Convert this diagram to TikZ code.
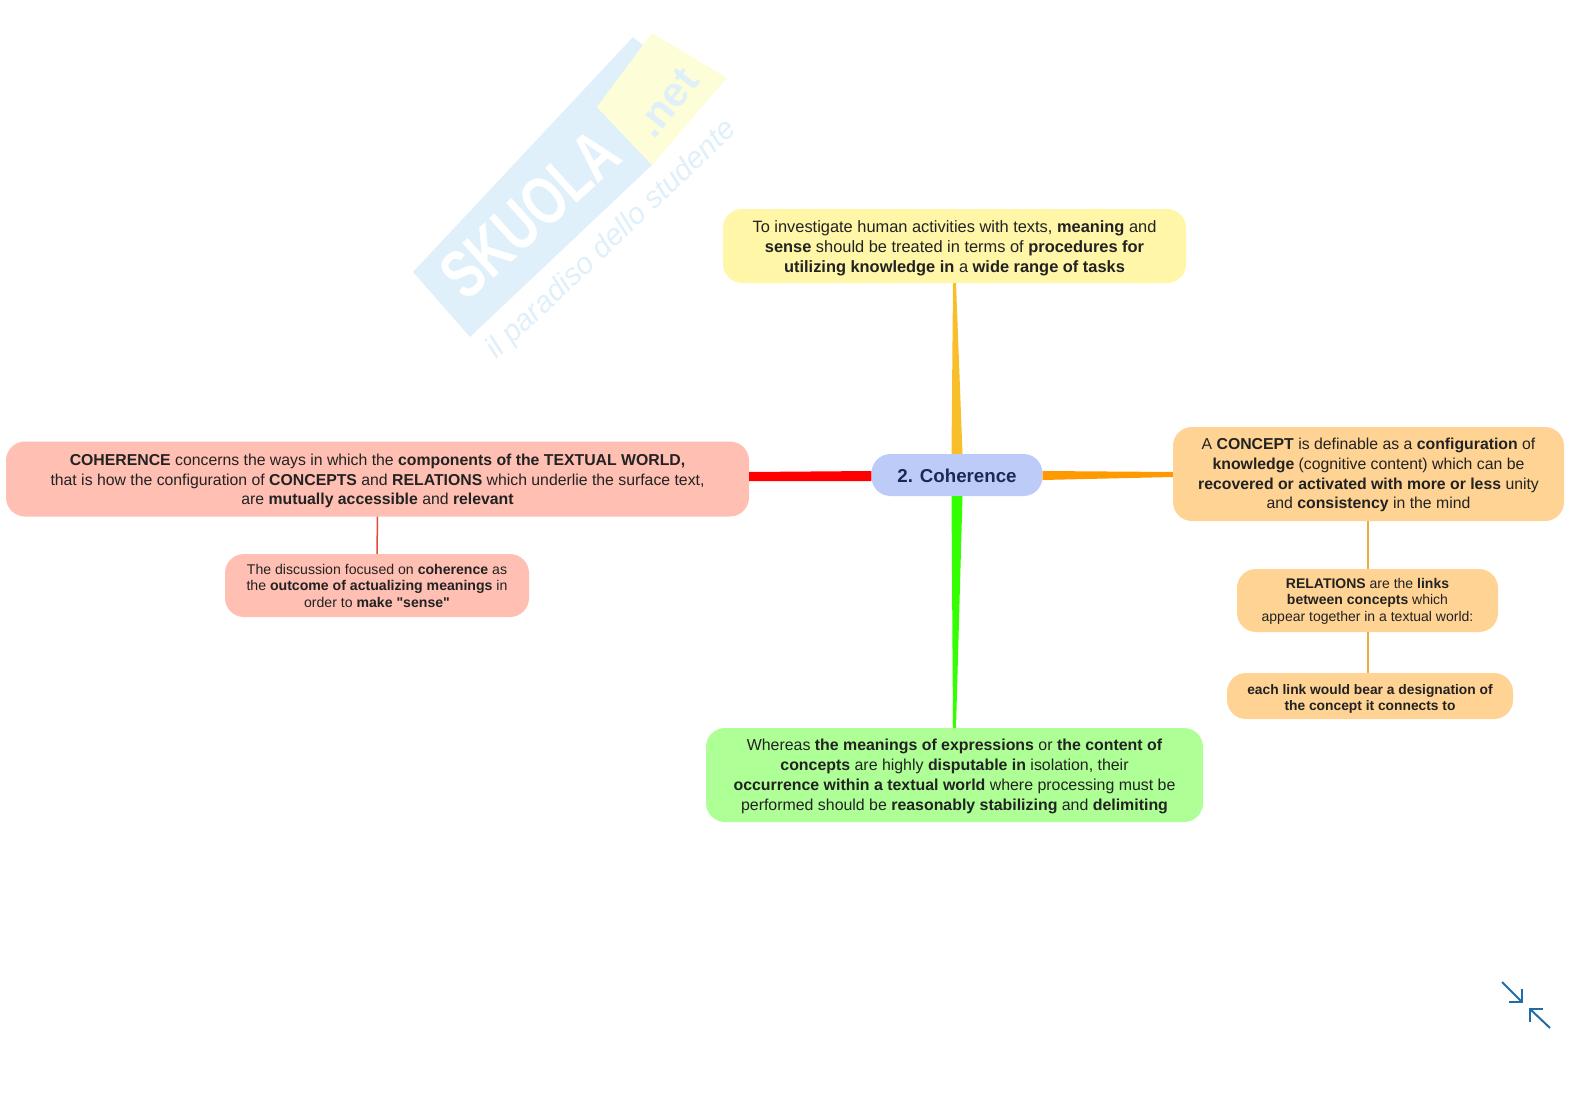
\documentclass[tikz,border=0pt]{standalone}
\usepackage{fontspec}
\setmainfont{Liberation Sans}
\newfontfamily\straightfont{Liberation Sans}
\usetikzlibrary{calc}
\definecolor{hubfill}{HTML}{BDCBF8}
\definecolor{hubtext}{HTML}{1B2A55}
\definecolor{yellowfill}{HTML}{FFF6A8}
\definecolor{redfill}{HTML}{FFBFB3}
\definecolor{orangefill}{HTML}{FFD394}
\definecolor{greenfill}{HTML}{AEFF95}
\definecolor{textcol}{HTML}{222222}
\definecolor{markblue}{HTML}{E0F0FA}
\definecolor{markyellow}{HTML}{FDFDD8}
\definecolor{iconblue}{HTML}{1F6CA8}
\definecolor{yellowline}{HTML}{F9BF2B}
\definecolor{redline}{HTML}{FF0000}
\definecolor{orangeline}{HTML}{FF9900}
\definecolor{greenline}{HTML}{33FF00}
\definecolor{redthin}{HTML}{E04A3A}
\definecolor{orangethin}{HTML}{E8AC40}
\tikzset{
    box/.style={rectangle, rounded corners=19pt, inner sep=0pt, align=center, text=textcol},
    hub/.style={box, fill=hubfill, text=hubtext, minimum width=171pt, minimum height=42pt, text height=16pt, font=\fontsize{18.7}{23}\selectfont\bfseries},
    yellowbox/.style={box, fill=yellowfill, minimum width=463pt, minimum height=74pt, text height=56.3pt, font=\fontsize{16.4}{19.8}\selectfont},
    redbox/.style={box, fill=redfill, minimum width=743pt, minimum height=75pt, text height=54.8pt, font=\fontsize{15.8}{19.6}\selectfont},
    redsub/.style={box, fill=redfill, minimum width=304pt, minimum height=63pt, text height=43.5pt, font=\fontsize{14.1}{16.4}\selectfont},
    orangebox/.style={box, fill=orangefill, minimum width=391pt, minimum height=94pt, text height=72.9pt, font=\fontsize{15.8}{19.8}\selectfont},
    orangesub/.style={box, fill=orangefill, minimum width=261pt, minimum height=63pt, text height=44.4pt, font=\fontsize{14}{16.4}\selectfont},
    orangeend/.style={box, fill=orangefill, minimum width=286pt, minimum height=46pt, text height=32pt, font=\fontsize{13.8}{16.4}\selectfont},
    greenbox/.style={box, fill=greenfill, minimum width=497pt, minimum height=94pt, text height=74pt, font=\fontsize{15.9}{19.8}\selectfont},
    redlink/.style={draw=redthin, line width=1.5pt},
    orangelink/.style={draw=orangethin, line width=2pt},
    icon/.style={draw=iconblue, line width=2pt}
}

\begin{document}
\begin{tikzpicture}
  [
    x = 1pt,
    y = -1pt,
  ]
  \useasboundingbox (0,0) rectangle (1579,1116);

  % watermark
  \fill [markblue] (413,272) -- (633,37) -- (645,47) -- (597,107) -- (652,165) -- (470,337) -- cycle;
  \fill [markyellow] (597,107) -- (652,33) -- (727,78) -- (652,165) -- cycle;
  \node (skuola) [rotate=42, xscale=.74, text=white, font=\fontsize{68}{68}\selectfont\bfseries] at (530,214) {SKUOLA};
  \node (net) [rotate=52, text=markblue, font=\fontsize{42}{42}\selectfont\bfseries] at (667,103) {.net};
  \node (motto) [rotate=43.5, text=markblue, font=\fontsize{30}{30}\selectfont\itshape] at (612,240) {il paradiso dello studente};

  % boxes
  \node (coherence) [hub] at (957,475) {2. Coherence};
  \node (activities) [yellowbox] at (954.5,246) {To investigate human activities with texts, \textbf{meaning} and\\
    \textbf{sense} should be treated in terms of \textbf{procedures for}\\
    \textbf{utilizing knowledge in} a \textbf{wide range of tasks}};
  \node (world) [redbox] at (377.5,479) {\textbf{COHERENCE} concerns the ways in which the \textbf{components of the TEXTUAL WORLD,}\\
    that is how the configuration of \textbf{CONCEPTS} and \textbf{RELATIONS} which underlie the surface text,\\
    are \textbf{mutually accessible} and \textbf{relevant}};
  \node (outcome) [redsub] at (377,585.5) {The discussion focused on \textbf{coherence} as\\
    the \textbf{outcome of actualizing meanings} in\\
    order to {\straightfont\textbf{make "sense"}}};
  \node (concept) [orangebox] at (1368.5,474) {A \textbf{CONCEPT} is definable as a \textbf{configuration} of\\
    \textbf{knowledge} (cognitive content) which can be\\
    \textbf{recovered or activated with more or less} unity\\
    and \textbf{consistency} in the mind};
  \node (relations) [orangesub] at (1367.5,600.5) {\textbf{RELATIONS} are the \textbf{links}\\
    \textbf{between concepts} which\\
    appear together in a textual world:};
  \node (link) [orangeend] at (1370,696) {\textbf{each link would bear a designation of}\\
    \textbf{the concept it connects to}};
  \node (meanings) [greenbox] at (954.5,775) {Whereas \textbf{the meanings of expressions} or \textbf{the content of}\\
    \textbf{concepts} are highly \textbf{disputable in} isolation, their\\
    \textbf{occurrence within a textual world} where processing must be\\
    performed should be \textbf{reasonably stabilizing} and \textbf{delimiting}};

  % branches
  \fill [yellowline] ($(coherence.north)+(-5.5,0)$) -- ($(coherence.north)+(5.5,0)$) -- ($(activities.south)+(1.5,0)$) -- ($(activities.south)+(-1.5,0)$) -- cycle;
  \fill [redline] ($(coherence.west)+(0,-4)$) -- ($(coherence.west)+(0,6)$) -- ($(world.east)+(0,2)$) -- ($(world.east)+(0,-7)$) -- cycle;
  \fill [orangeline] ($(coherence.east)+(0,-4)$) -- ($(coherence.east)+(0,5)$) -- ($(concept.west)+(0,3)$) -- ($(concept.west)+(0,-2)$) -- cycle;
  \fill [greenline] ($(coherence.south)+(-5.5,0)$) -- ($(coherence.south)+(5.5,0)$) -- ($(meanings.north)+(1.5,0)$) -- ($(meanings.north)+(-1.5,0)$) -- cycle;

  \draw [redlink] (world.south) -- (outcome.north);
  \draw [orangelink] (relations.north |- concept.south) -- (relations.north);
  \draw [orangelink] (relations.south) -- (relations.south |- link.north);

  % collapse icon
  \draw [icon] (1502,982) -- (1522,1002);
  \draw [icon] (1509,1002) -- (1522,1002) -- (1522,989);
  \draw [icon] (1550,1028) -- (1530,1009);
  \draw [icon] (1530,1022) -- (1530,1009) -- (1543,1009);
\end{tikzpicture}
\end{document}
